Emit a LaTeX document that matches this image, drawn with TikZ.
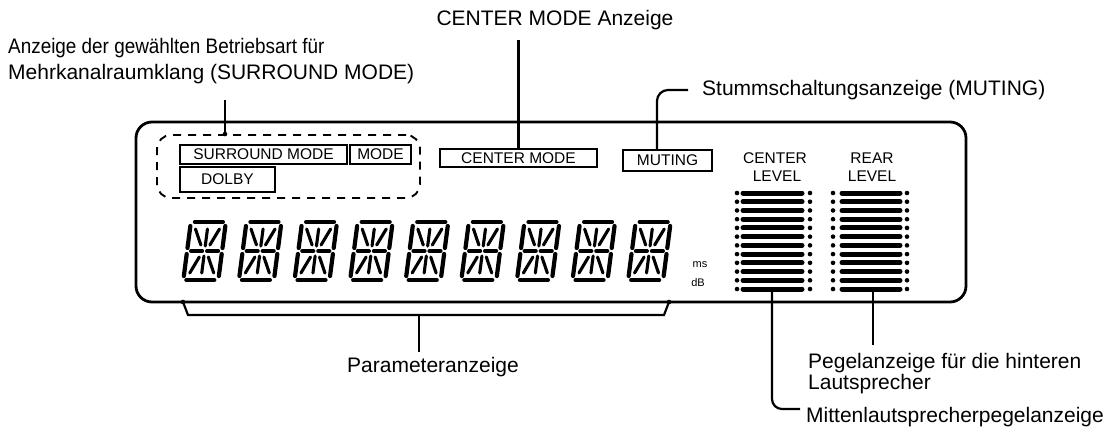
\documentclass[tikz,border=0pt]{standalone}
\usepackage{fontspec}
\setmainfont{Liberation Sans}
\begin{document}
\begin{tikzpicture}[x=1pt,y=-1pt,
  lbl/.style={font=\fontsize{21}{25}\selectfont, inner sep=0pt},
  lcd/.style={font=\fontsize{15.5}{18}\selectfont, inner sep=0pt},
  small/.style={font=\fontsize{11}{13}\selectfont, inner sep=0pt},
  tbox/.style={draw, line width=1.6pt, inner sep=0pt, lcd},
  leader/.style={line width=2.2pt},
  seg/.style={line width=4.2pt, line cap=round},
  iseg/.style={line width=3.1pt, line cap=round},
  bar/.style={line width=5pt, line cap=round}]
\useasboundingbox (0,0) rectangle (1119,436);

% display outline
\node[draw, line width=2.8pt, rounded corners=16pt, minimum width=830pt, minimum height=180pt, inner sep=0pt] (display) at (551,212) {};
% dashed group
\node[draw, line width=1.9pt, dash pattern=on 8pt off 7pt, rounded corners=14pt, minimum width=263pt, minimum height=63pt, inner sep=0pt] (grp) at (288.5,166.5) {};

% indicator boxes
\node[tbox, minimum width=167pt, minimum height=19pt] (sm) at (263.5,154.5) {SURROUND MODE};
\node[tbox, minimum width=61pt, minimum height=19pt] (md) at (380.5,154.5) {MODE};
\node[tbox, minimum width=95pt, minimum height=25pt] (dolby) at (227.5,179.5) {DOLBY};
\node[tbox, minimum width=157pt, minimum height=18pt] (cm) at (518.5,158) {CENTER MODE};
\node[tbox, minimum width=89pt, minimum height=21pt] (mut) at (667.5,160.5) {MUTING};

% level captions
\node[lcd] (clev1) at (775,158) {CENTER};
\node[lcd] (clev2) at (777,176) {LEVEL};
\node[lcd] (rlev1) at (872,158) {REAR};
\node[lcd] (rlev2) at (872,176) {LEVEL};

% bar graphs
\foreach \i in {0,...,11} {
  \pgfmathsetmacro\yy{193+8.73*\i}
  \draw[bar] (743,\yy) -- (802,\yy);
  \fill (737,\yy) circle (2.3);
  \fill (810,\yy) circle (2.3);
  \draw[bar] (842,\yy) -- (900,\yy);
  \fill (833,\yy) circle (2.3);
  \fill (907,\yy) circle (2.3);
}

% 14-segment digits
\foreach \i in {0,...,8} {
  \begin{scope}[shift={({190+55.6*\i},221)}, xslant=0.13]
    \draw[seg] (5,1) -- (33,1);
    \draw[seg] (4,59) -- (32,59);
    \draw[seg] (1,5) -- (1,27);
    \draw[seg] (1,33) -- (1,55);
    \draw[seg] (36,5) -- (36,27);
    \draw[seg] (36,33) -- (36,55);
    \draw[seg] (5,30) -- (16,30);
    \draw[seg] (21,30) -- (32,30);
    \draw[iseg] (6.5,8) -- (14,24);
    \draw[iseg] (18.5,8) -- (18.5,25);
    \draw[iseg] (30.5,8) -- (23,24);
    \draw[iseg] (14,36) -- (6.5,52);
    \draw[iseg] (18.5,35) -- (18.5,52);
    \draw[iseg] (23,36) -- (30.5,52);
  \end{scope}
}
\node[small] (ms) at (700,265) {ms};
\node[small] (db) at (698,283) {dB};

% labels
\node[lbl, anchor=west] (surlbl1) at (8,48) {\scalebox{0.9}[1]{Anzeige der gewählten Betriebsart für}};
\node[lbl, anchor=west] (surlbl2) at (8,74) {Mehrkanalraumklang (SURROUND MODE)};
\node[lbl] (cmlbl) at (555,20) {CENTER MODE Anzeige};
\node[lbl, anchor=west] (mutlbl) at (702,90) {Stummschaltungsanzeige (MUTING)};
\node[lbl] (parlbl) at (433,367) {Parameteranzeige};
\node[lbl, anchor=west] (peglbl1) at (808,363) {Pegelanzeige für die hinteren};
\node[lbl, anchor=west] (peglbl2) at (808,384) {Lautsprecher};
\node[lbl, anchor=west] (mitlbl) at (806,417) {Mittenlautsprecherpegelanzeige};

% leaders
\coordinate (surtop) at (225,100);
\draw[leader] (surtop) -- (surtop |- grp.north);
\fill (surtop |- grp.north) circle (2.3);

\coordinate (cmtop) at (518.5,40);
\draw[leader] (cmtop) -- (cm.north);

\coordinate (mutx) at (657,90);
\draw[leader, rounded corners=11pt] (mut.north -| mutx) -- (mutx) -- ([xshift=-14pt]mutlbl.west);

\coordinate (cbot) at (772,292);
\coordinate (cturn) at (772,409);
\coordinate (cend) at (800,409);
\draw[leader, rounded corners=10pt] (cbot) -- (cturn) -- (cend);

\coordinate (rbot) at (873,292);
\coordinate (rend) at (873,345);
\draw[leader] (rbot) -- (rend);

\coordinate (bl) at (183,302);
\coordinate (br) at (669,302);
\coordinate (bstem) at (419,315);
\coordinate (bstemend) at (419,352);
\draw[leader] (bl) -- (188,315) -- (664,315) -- (br);
\fill (bl) circle (2.3);
\fill (br) circle (2.3);
\draw[leader] (bstem) -- (bstemend);
\end{tikzpicture}
\end{document}
